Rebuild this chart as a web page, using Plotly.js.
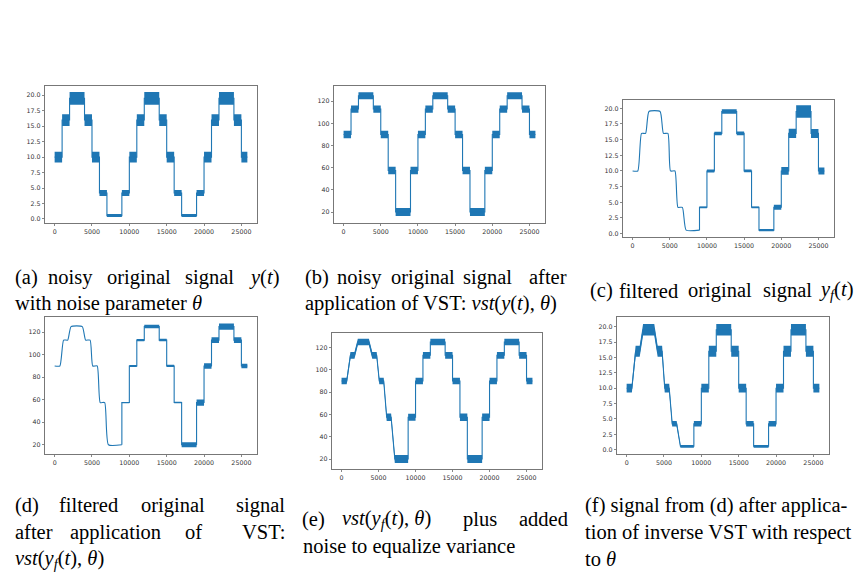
<!DOCTYPE html>
<html><head><meta charset="utf-8">
<script src="https://cdn.plot.ly/plotly-3.0.1.min.js"></script>
<style>html,body{margin:0;padding:0;background:#fff}#chart{width:856px;height:580px}</style>
</head><body><div id="chart"></div>
<script>
// ---- data ----
const segEdges = [0,1000,2000,4000,5000,6000,7000,9000,10000,11000,12000,14000,15000,16000,17000,19000,20000,21000,22000,24000,25000,25800];
const levelRaw = [10,16,19.5,16,10,4.2,0.55,4.2,10,16,19.5,16,10,4.2,0.55,4.2,10,16,19.5,16,10];
const levelVst = [90,113,125,113,90,57.5,20,57.5,90,113,125,113,90,57.5,20,57.5,90,113,125,113,90];
const noiseA = [0.85,0.95,1.05,0.95,0.85,0.5,0.25,0.5,0.85,0.95,1.05,0.95,0.85,0.5,0.25,0.5,0.85,0.95,1.05,0.95,0.85];
const noiseB = [3.3,3.3,3.2,3.3,3.3,3.3,3.6,3.3,3.3,3.3,3.2,3.3,3.3,3.3,3.6,3.3,3.3,3.3,3.2,3.3,3.3];
const noiseC = [0,0,0,0,0,0,0,0.14,0.25,0.28,0.36,0.3,0.22,0.14,0.18,0.4,0.62,0.75,1.0,0.72,0.55];
const noiseD = [0,0,0,0,0,0,0,0.6,0.9,1.0,1.6,1.1,1.0,0.7,2.3,2.8,2.5,2.5,2.8,2.6,2.0];
const noiseE = [2.9,3.0,2.9,3.0,3.0,3.3,3.6,3.1,3.0,3.0,2.9,3.0,3.0,3.3,3.6,3.3,3.0,3.0,2.9,3.0,2.9];
const noiseF = [0.7,0.9,0.95,0.9,0.7,0.45,0.22,0.45,0.7,0.9,0.95,0.9,0.7,0.45,0.22,0.45,0.7,0.9,0.95,0.9,0.7];
// smooth (filtered) first period
const smoothX   = [0,700,1200,1750,2200,3700,4150,4750,5100,5700,6100,6700,7200,9000];
const smoothRaw = [10,10,16,16,19.5,19.5,16,16,10,10,4.2,4.2,0.55,0.55];
const smoothVst = [90,90,113,113,125,125,113,113,90,90,57.5,57.5,20,20];
const smoothNoiseE = [2.9,2.9,3.0,3.0,2.9,2.9,3.0,3.0,3.0,3.0,3.3,3.3,3.6,3.6];
const smoothNoiseF = [0.7,0.7,0.9,0.9,0.95,0.95,0.9,0.9,0.7,0.7,0.45,0.45,0.22,0.22];
// ticks
const xTickVals = [0,5000,10000,15000,20000,25000];
const xTickText = ['0','5000','10000','15000','20000','25000'];
const yRawVals = [0,2.5,5,7.5,10,12.5,15,17.5,20];
const yRawText = ['0.0','2.5','5.0','7.5','10.0','12.5','15.0','17.5','20.0'];
const yVstVals = [20,40,60,80,100,120];
const yVstText = ['20','40','60','80','100','120'];

// ---- build curves ----
function buildCurve(sx, sy, sn, fromSeg, levels, noise){
  const x=[], y=[], n=[];
  for(let i=0;i<sx.length;i++){x.push(sx[i]);y.push(sy[i]);n.push(sn?sn[i]:0);}
  for(let i=fromSeg;i<levels.length;i++){
    x.push(segEdges[i]);y.push(levels[i]);n.push(noise[i]);
    x.push(segEdges[i+1]);y.push(levels[i]);n.push(noise[i]);
  }
  return {x,y,n,ns:sx.length};
}
const curves = [
  buildCurve([],[],[],0,levelRaw,noiseA),
  buildCurve([],[],[],0,levelVst,noiseB),
  buildCurve(smoothX,smoothRaw,null,7,levelRaw,noiseC),
  buildCurve(smoothX,smoothVst,null,7,levelVst,noiseD),
  buildCurve(smoothX,smoothVst,smoothNoiseE,7,levelVst,noiseE),
  buildCurve(smoothX,smoothRaw,smoothNoiseF,7,levelRaw,noiseF)
];
const splineSmooth=[false,false,true,true,false,false];
const blue='#1f77b4';
const traces=[];
curves.forEach((c,k)=>{
  const sfx = k===0?'':String(k+1);
  const up = c.y.map((v,i)=>v+c.n[i]);
  const lo = c.y.map((v,i)=>v-c.n[i]);
  traces.push({x:c.x.concat(c.x.slice().reverse()), y:up.concat(lo.slice().reverse()),
    mode:'lines', fill:'toself', fillcolor:blue, line:{width:0,color:blue}, hoverinfo:'skip',
    xaxis:'x'+sfx, yaxis:'y'+sfx, showlegend:false});
  if(splineSmooth[k]){
    traces.push({x:c.x.slice(0,c.ns), y:c.y.slice(0,c.ns), mode:'lines', line:{color:blue,width:1.1,shape:'spline',smoothing:0.5},
      xaxis:'x'+sfx, yaxis:'y'+sfx, showlegend:false});
    traces.push({x:c.x.slice(c.ns-1), y:c.y.slice(c.ns-1), mode:'lines', line:{color:blue,width:1.1},
      xaxis:'x'+sfx, yaxis:'y'+sfx, showlegend:false});
  } else {
    traces.push({x:c.x, y:c.y, mode:'lines', line:{color:blue,width:1.1},
      xaxis:'x'+sfx, yaxis:'y'+sfx, showlegend:false});
  }
});

// ---- layout ----
const W=856,H=580;
const boxes=[[45,257,86,223],[334,545,86,223],[623,834,100,237],[45,257,317,454],[332,542,333,469],[617,829,317,454]];
const yRanges=[[-0.65,21.5],[10.1,133.8],[-0.54,21.33],[11.8,133.5],[11.1,133],[-0.7,21.57]];
const isRaw=[true,false,true,false,false,true];
const axBase={showline:true,mirror:true,linecolor:'#555',linewidth:0.8,ticks:'outside',ticklen:2.5,tickwidth:0.7,
  tickcolor:'#555',tickfont:{family:'DejaVu Sans',size:6.3,color:'#333'},showgrid:false,zeroline:false,fixedrange:true};
const layout={width:W,height:H,margin:{l:0,r:0,t:0,b:0},paper_bgcolor:'#fff',plot_bgcolor:'#fff',showlegend:false,annotations:[]};
boxes.forEach((b,k)=>{
  const sfx=k===0?'':String(k+1);
  layout['xaxis'+sfx]=Object.assign({},axBase,{domain:[b[0]/W,b[1]/W],range:[-1290,27090],anchor:'y'+sfx,
    tickmode:'array',tickvals:xTickVals,ticktext:xTickText});
  layout['yaxis'+sfx]=Object.assign({},axBase,{domain:[1-b[3]/H,1-b[2]/H],range:yRanges[k],anchor:'x'+sfx,
    tickmode:'array',tickvals:isRaw[k]?yRawVals:yVstVals,ticktext:isRaw[k]?yRawText:yVstText});
});
// captions: [text, x(px), y(px center), anchor]
const mYt='<i>y</i>(<i>t</i>)';
const mYft='<i>y<sub>f</sub></i>(<i>t</i>)';
const mVstY='<i>vst</i>('+mYt+', <i>θ</i>)';
const mVstYf='<i>vst</i>('+mYft+', <i>θ</i>)';
const capFont={family:'Liberation Serif',size:20.5,color:'#000'};
const captions=[
  ['(a)',12.7,277,'left'],['noisy',70,277,'center'],['original',139,277,'center'],['signal',209,277,'center'],[mYt,281,277,'right'],
  ['with noise parameter <i>θ</i>',12.7,303,'left'],
  ['(b)',302.7,277,'left'],['noisy',359,277,'center'],['original',423,277,'center'],['signal',487,277,'center'],['after',569,277,'right'],
  ['application of VST: '+mVstY,302.7,303,'left'],
  ['(c)',587.7,291,'left'],['filtered',648,291,'center'],['original',720,291,'center'],['signal',787,291,'center'],[mYft,855,291,'right'],
  ['(d)',12.7,505,'left'],['filtered',88.5,505,'center'],['original',173,505,'center'],['signal',287,505,'right'],
  ['after',12.7,532,'left'],['application',116,532,'center'],['of',193,532,'center'],['VST:',287,532,'right'],
  [mVstYf,12.7,559,'left'],
  ['(e)',300,519,'left'],[mVstYf,386,519,'center'],['plus',480,519,'center'],['added',570,519,'right'],
  ['noise to equalize variance',301,546,'left'],
  ['(f) signal from (d) after applica-',583,505,'left'],
  ['tion of inverse VST with respect',583,532,'left'],
  ['to <i>θ</i>',583,559,'left']
];
captions.forEach(c=>{
  layout.annotations.push({text:c[0],xref:'paper',yref:'paper',x:c[1]/W,y:1-c[2]/H,xanchor:c[3],yanchor:'middle',
    showarrow:false,font:capFont});
});
Plotly.newPlot('chart',traces,layout,{staticPlot:true,displayModeBar:false});
</script></body></html>
